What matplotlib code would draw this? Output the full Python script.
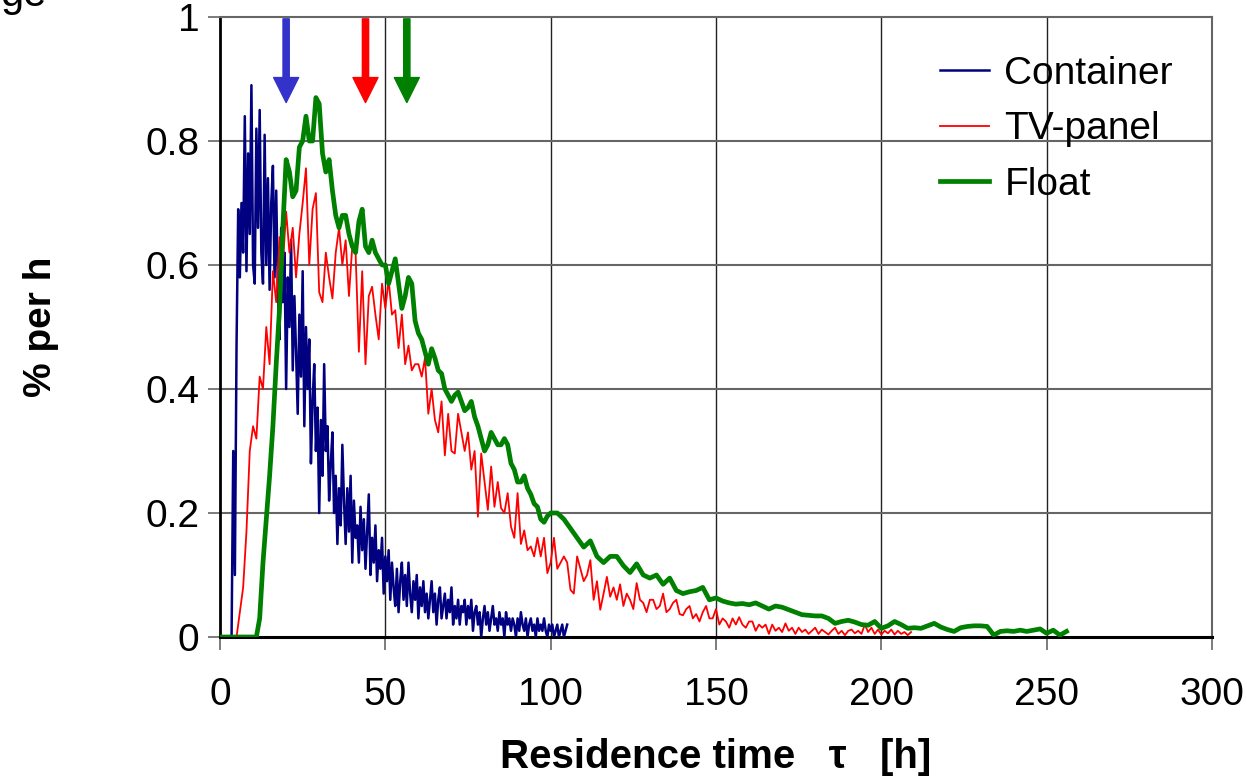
import numpy as np
import matplotlib
matplotlib.use("Agg")
import matplotlib.pyplot as plt

plt.rcParams['font.family'] = ['Liberation Sans', 'DejaVu Sans']

# Container: sampled every 0.5 h from 3.5 h to 105 h
container_t = np.arange(3.5, 105.01, 0.5)
container = [
    0.00, 0.30, 0.10, 0.47, 0.69, 0.58, 0.70, 0.62, 0.84, 0.59,
    0.78, 0.65, 0.89, 0.60, 0.57, 0.82, 0.66, 0.85, 0.62, 0.57,
    0.81, 0.60, 0.74, 0.56, 0.70, 0.76, 0.58, 0.72, 0.56, 0.48,
    0.66, 0.54, 0.62, 0.40, 0.58, 0.50, 0.64, 0.43, 0.55, 0.46,
    0.36, 0.52, 0.42, 0.59, 0.34, 0.50, 0.40, 0.48, 0.28, 0.38,
    0.44, 0.30, 0.37, 0.20, 0.35, 0.26, 0.44, 0.30, 0.34, 0.22,
    0.28, 0.33, 0.20, 0.26, 0.15, 0.24, 0.18, 0.31, 0.22, 0.15,
    0.24, 0.17, 0.26, 0.12, 0.22, 0.16, 0.18, 0.12, 0.21, 0.14,
    0.19, 0.11, 0.17, 0.23, 0.10, 0.16, 0.12, 0.18, 0.09, 0.14,
    0.11, 0.16, 0.07, 0.13, 0.09, 0.14, 0.06, 0.12, 0.08, 0.05,
    0.11, 0.04, 0.09, 0.12, 0.06, 0.10, 0.05, 0.12, 0.07, 0.04,
    0.09, 0.06, 0.10, 0.03, 0.08, 0.05, 0.09, 0.04, 0.07, 0.03,
    0.06, 0.09, 0.04, 0.07, 0.02, 0.06, 0.08, 0.03, 0.05, 0.07,
    0.03, 0.06, 0.04, 0.08, 0.02, 0.05, 0.03, 0.06, 0.02, 0.05,
    0.04, 0.06, 0.02, 0.05, 0.03, 0.06, 0.01, 0.04, 0.05, 0.02,
    0.04, 0.00, 0.03, 0.05, 0.02, 0.04, 0.01, 0.03, 0.05, 0.02,
    0.03, 0.01, 0.04, 0.02, 0.03, 0.00, 0.04, 0.02, 0.03, 0.01,
    0.03, 0.02, 0.00, 0.03, 0.01, 0.04, 0.02, 0.01, 0.03, 0.00,
    0.02, 0.03, 0.01, 0.02, 0.00, 0.03, 0.01, 0.02, 0.01, 0.03,
    0.01, 0.00, 0.02, 0.01, 0.02, 0.00, 0.01, 0.02, 0.00, 0.01,
    0.02, 0.00, 0.01, 0.02,
]

# TV-panel: hourly from 5 h to 209 h
tv_t = np.arange(5, 210, 1)
tv_panel = [
    0.00, 0.04, 0.08, 0.17, 0.30, 0.34, 0.32, 0.42, 0.40, 0.50,
    0.44, 0.59, 0.54, 0.645, 0.60, 0.686, 0.62, 0.66, 0.58, 0.65,
    0.70, 0.756, 0.60, 0.69, 0.716, 0.556, 0.54, 0.62, 0.58, 0.546,
    0.62, 0.66, 0.60, 0.64, 0.55, 0.63, 0.62, 0.46, 0.59, 0.44,
    0.55, 0.565, 0.52, 0.48, 0.57, 0.53, 0.576, 0.52, 0.527, 0.466,
    0.52, 0.44, 0.47, 0.43, 0.44, 0.44, 0.42, 0.45, 0.36, 0.40,
    0.35, 0.33, 0.38, 0.293, 0.36, 0.30, 0.296, 0.36, 0.33, 0.30,
    0.33, 0.27, 0.30, 0.194, 0.296, 0.25, 0.205, 0.275, 0.21, 0.25,
    0.208, 0.20, 0.232, 0.178, 0.16, 0.232, 0.15, 0.172, 0.14, 0.146,
    0.13, 0.16, 0.13, 0.16, 0.103, 0.12, 0.16, 0.11, 0.12, 0.13,
    0.12, 0.076, 0.07, 0.13, 0.11, 0.09, 0.10, 0.124, 0.06, 0.09,
    0.044, 0.07, 0.097, 0.065, 0.08, 0.06, 0.085, 0.05, 0.07, 0.06,
    0.045, 0.087, 0.06, 0.055, 0.04, 0.06, 0.06, 0.045, 0.05, 0.07,
    0.04, 0.045, 0.055, 0.06, 0.037, 0.035, 0.045, 0.05, 0.03, 0.037,
    0.025, 0.04, 0.05, 0.03, 0.03, 0.045, 0.02, 0.03, 0.025, 0.015,
    0.03, 0.02, 0.032, 0.02, 0.015, 0.025, 0.025, 0.01, 0.02, 0.015,
    0.02, 0.005, 0.02, 0.01, 0.015, 0.008, 0.022, 0.01, 0.015, 0.005,
    0.015, 0.008, 0.012, 0.005, 0.01, 0.015, 0.005, 0.012, 0.008, 0.004,
    0.01, 0.015, 0.005, 0.01, 0.003, 0.01, 0.012, 0.006, 0.01, 0.005,
    0.02, 0.008, 0.015, 0.005, 0.012, 0.004, 0.01, 0.006, 0.012, 0.004,
    0.01, 0.005, 0.008, 0.003, 0.008,
]

# Float: hourly up to 100 h, then every 2 h up to 256 h
float_t = np.concatenate([np.arange(0, 101, 1), np.arange(102, 257, 2)])
float_glass = [
    0, 0, 0, 0, 0, 0, 0, 0, 0, 0,
    0, 0, 0.03, 0.12, 0.19, 0.26, 0.34, 0.44, 0.53, 0.66,
    0.77, 0.75, 0.71, 0.72, 0.79, 0.80, 0.84, 0.80, 0.80, 0.87,
    0.86, 0.78, 0.75, 0.77, 0.72, 0.68, 0.66, 0.68, 0.68, 0.65,
    0.63, 0.62, 0.67, 0.69, 0.63, 0.62, 0.64, 0.62, 0.61, 0.60,
    0.60, 0.57, 0.59, 0.61, 0.57, 0.53, 0.55, 0.58, 0.57, 0.51,
    0.49, 0.48, 0.46, 0.44, 0.465, 0.45, 0.43, 0.425, 0.40, 0.39,
    0.38, 0.39, 0.395, 0.38, 0.365, 0.37, 0.38, 0.355, 0.34, 0.32,
    0.30, 0.31, 0.33, 0.32, 0.31, 0.31, 0.32, 0.31, 0.28, 0.27,
    0.25, 0.25, 0.26, 0.24, 0.23, 0.215, 0.21, 0.19, 0.185, 0.195,
    0.20,
    0.20, 0.19, 0.175, 0.16, 0.145, 0.155, 0.13, 0.12, 0.13, 0.13,
    0.115, 0.104, 0.118, 0.10, 0.095, 0.10, 0.085, 0.095, 0.075, 0.07,
    0.073, 0.075, 0.08, 0.06, 0.063, 0.058, 0.055, 0.053, 0.054, 0.052,
    0.055, 0.05, 0.045, 0.05, 0.048, 0.044, 0.04, 0.036, 0.035, 0.034,
    0.034, 0.03, 0.022, 0.025, 0.027, 0.024, 0.02, 0.019, 0.025, 0.014,
    0.018, 0.025, 0.02, 0.014, 0.015, 0.014, 0.018, 0.022, 0.016, 0.012,
    0.009, 0.015, 0.017, 0.018, 0.018, 0.017, 0.003, 0.009, 0.01, 0.009,
    0.011, 0.009, 0.011, 0.013, 0.006, 0.011, 0.003, 0.009,
]

# mean residence time markers
arrow_x = [20, 44, 56.5]
arrow_colors = ['#3333CC', '#FF0000', '#008000']

fig = plt.figure(figsize=(12.47, 7.83), dpi=100)
ax = fig.add_axes([220/1247, 1-637/783, 992/1247, 620/783])

ax.plot(container_t, container, color='#000080', lw=1.8, label='Container', zorder=3)
ax.plot(tv_t, tv_panel, color='#FF0000', lw=1.3, label='TV-panel', zorder=4)
ax.plot(float_t, float_glass, color='#008000', lw=3.4, label='Float', zorder=5)

for x, c in zip(arrow_x, arrow_colors):
    ax.annotate('', xy=(x, 0.862), xytext=(x, 0.997),
                arrowprops=dict(width=4.5, headwidth=18, headlength=18,
                                color=c, shrink=0), zorder=6)

ax.set_xlim(0, 300)
ax.set_ylim(0, 1)
ax.set_xticks(np.arange(0, 301, 50))
ax.set_yticks(np.arange(0, 1.01, 0.2))
ax.set_yticklabels(['0', '0.2', '0.4', '0.6', '0.8', '1'])

for v in np.arange(50, 300, 50):
    ax.axvline(v, color='#222222', lw=1.0, zorder=1)
for v in np.arange(0.2, 1.0, 0.2):
    ax.axhline(v, color='#666666', lw=1.5, zorder=1)

ax.spines['left'].set_linewidth(2.0)
ax.spines['bottom'].set_linewidth(2.2)
ax.spines['top'].set_color('#666666')
ax.spines['right'].set_color('#666666')
ax.spines['top'].set_linewidth(1.5)
ax.spines['right'].set_linewidth(1.5)

ax.tick_params(axis='y', direction='out', length=9, width=1.2, color='#666666',
               labelsize=28, pad=6)
ax.tick_params(axis='x', direction='out', length=9, width=1.2, color='#666666',
               labelsize=28, pad=20)

ax.set_xlabel('Residence time   τ   [h]', fontsize=29, fontweight='bold', labelpad=18)
ax.set_ylabel('% per h', fontsize=28, fontweight='bold', labelpad=62)

ax.legend(loc='upper right', bbox_to_anchor=(1.0, 1.0), frameon=False,
          fontsize=28, handlelength=1.25, labelspacing=0.5, handletextpad=0.4,
          borderaxespad=0.6)

fig.text(0.0, 1-6/783, 'ge', fontsize=30, va='baseline', ha='left')

fig.savefig('out.png', dpi=100)
